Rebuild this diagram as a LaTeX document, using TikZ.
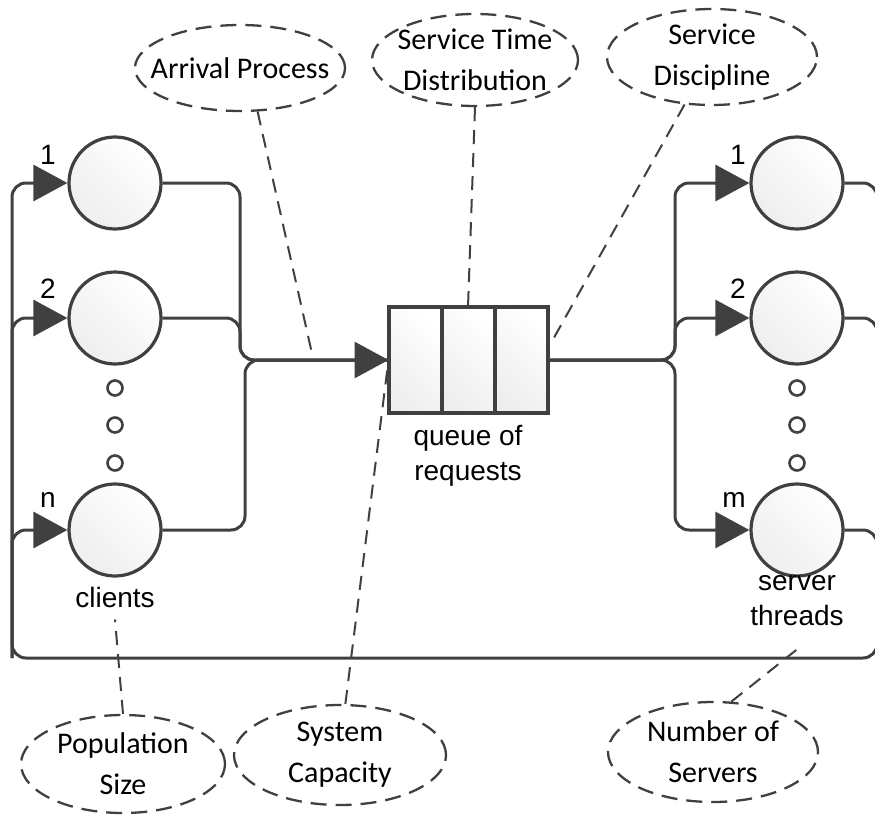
\documentclass[tikz,border=0pt]{standalone}
\usepackage{fontspec}
\setmainfont{Liberation Sans}
\newfontfamily\calfont{Carlito}
\usetikzlibrary{arrows.meta,positioning,calc,shapes.geometric}
\definecolor{qsedge}{RGB}{64,64,64}
\definecolor{qsfill}{RGB}{238,238,238}
\tikzset{
  station/.style={
    circle, draw=qsedge, line width=3.2pt,
    top color=white, bottom color=qsfill, shading angle=-45,
    minimum size=92pt, inner sep=0pt
  },
  gap/.style={
    circle, draw=qsedge, line width=2.6pt, fill=white,
    minimum size=15pt, inner sep=0pt
  },
  cell/.style={
    rectangle, draw=qsedge, line width=4pt,
    top color=white, bottom color=qsfill, shading angle=-45,
    minimum width=53pt, minimum height=106pt, inner sep=0pt, outer sep=0pt
  },
  flow/.style={draw=qsedge, line width=3pt, rounded corners=14pt},
  arr/.style={flow, -{Triangle[length=34pt,width=36pt]}},
  param/.style={
    ellipse, draw=qsedge, line width=2.3pt, dash pattern=on 16pt off 9pt,
    inner sep=0pt
  },
  ptext/.style={
    align=center, inner sep=0pt, font=\calfont\fontsize{30}{41}\selectfont
  },
  hint/.style={draw=qsedge, line width=2pt, dash pattern=on 14pt off 9pt},
  lbl/.style={font=\fontsize{28}{35}\selectfont, align=center, inner sep=0pt},
  idx/.style={lbl}
}
\begin{document}
\begin{tikzpicture}[x=1pt, y=-1pt]
  \useasboundingbox (0,0) rectangle (875,832);

  % clients
  \node[station] (c1) at (115,183) {};
  \node[station] (c2) at (115,318) {};
  \node[station] (cn) at (115,530) {};
  \foreach \y [count=\i] in {388,425,463}
    \node[gap] (cd\i) at (115,\y) {};
  \node[idx] (c1n) at (48,155) {1};
  \node[idx] (c2n) at (48,289) {2};
  \node[idx] (cnn) at (48,500) {n};
  \node[lbl] (clab) at (115,597) {clients};

  % queue
  \node[cell] (q1) at (415,360) {};
  \node[cell, right=0pt of q1] (q2) {};
  \node[cell, right=0pt of q2] (q3) {};
  \node[lbl, below=12pt of q2] (qlab) {queue of\\requests};

  % servers
  \node[station] (s1) at (797,183) {};
  \node[station] (s2) at (797,318) {};
  \node[station] (sm) at (797,530) {};
  \foreach \y [count=\i] in {388,425,463}
    \node[gap] (sd\i) at (797,\y) {};
  \node[idx] (s1n) at (738,155) {1};
  \node[idx] (s2n) at (738,289) {2};
  \node[idx] (smn) at (734,500) {m};
  \node[lbl] (slab) at (797,601) {server\\threads};

  % rails
  \coordinate (ja) at (240,360);
  \coordinate (jb) at (245,360);
  \coordinate (fk) at (675,360);
  \coordinate (rr) at (877,658);
  \coordinate (rl) at (12,658);

  \draw[flow] (c1.east) -| (ja) -- (q1.west);
  \draw[flow] (c2.east) -| (ja) -- (q1.west);
  \draw[arr] (cn.east) -| (jb) -- (q1.west);

  \draw[arr] (q3.east) -- (fk) |- (s1.west);
  \draw[arr] (q3.east) -- (fk) |- (s2.west);
  \draw[arr] (q3.east) -- (fk) |- (sm.west);

  \draw[arr] (s1.east) -| (rr) -- (rl) |- (c1.west);
  \draw[flow] (s2.east) -| (rr);
  \draw[flow] (sm.east) -| (rr);
  \draw[arr] (rl) |- (c2.west);
  \draw[arr] (rl) |- (cn.west);

  % parameters
  \node[param, minimum width=210pt, minimum height=86pt,
    label={[ptext]center:Arrival Process}] (arrproc) at (240,68) {};
  \node[param, minimum width=206pt, minimum height=92pt,
    label={[ptext]center:Service Time\\Distribution}] (svctime) at (475,60) {};
  \node[param, minimum width=210pt, minimum height=96pt,
    label={[ptext]center:Service\\Discipline}] (svcdisc) at (712,57) {};
  \node[param, minimum width=204pt, minimum height=98pt,
    label={[ptext]center:Population\\Size}] (popsize) at (123,764) {};
  \node[param, minimum width=212pt, minimum height=100pt,
    label={[ptext]center:System\\Capacity}] (syscap) at (340,755) {};
  \node[param, minimum width=210pt, minimum height=100pt,
    label={[ptext]center:Number of\\Servers}] (numsrv) at (713,752) {};

  \coordinate (apx) at (313,358);
  \coordinate (sdx) at (551,343);
  \coordinate (nsx) at (800,647);
  \draw[hint] (arrproc.292) -- (apx);
  \draw[hint] (svctime.south) -- (q2.north);
  \draw[hint] (svcdisc.240) -- (sdx);
  \draw[hint] (syscap.84) -- (q1.west);
  \draw[hint] (popsize.north) -- ([yshift=-12pt]clab.south);
  \draw[hint] (numsrv.70) -- (nsx);
\end{tikzpicture}
\end{document}
